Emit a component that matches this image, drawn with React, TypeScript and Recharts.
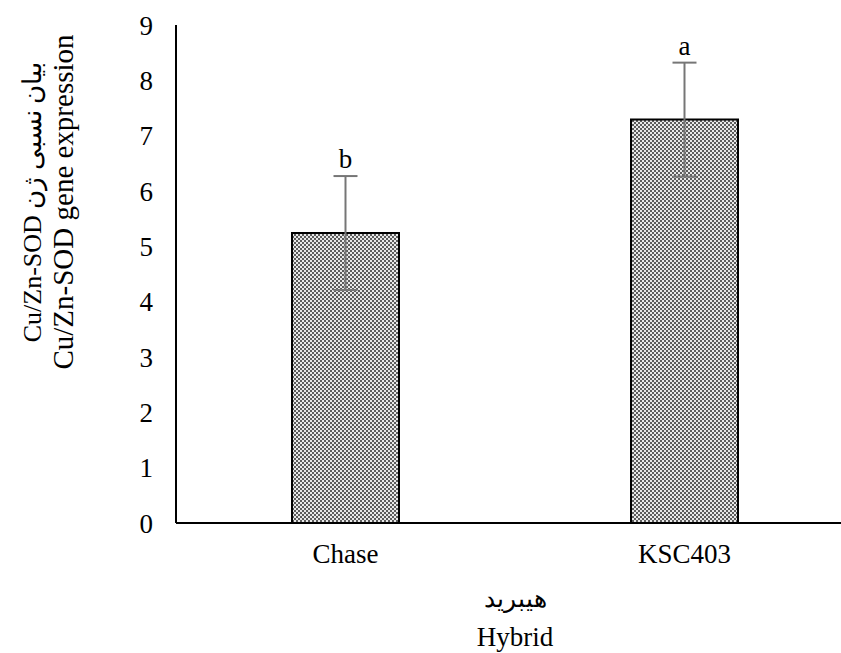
import { BarChart, Bar, XAxis, YAxis, ErrorBar, LabelList } from "recharts";

const hybrids = ["Chase", "KSC403"];
const expression = [5.24, 7.29];
const errors = [1.03, 1.03];
const letters = ["b", "a"];
const yTicks = [0, 1, 2, 3, 4, 5, 6, 7, 8, 9];

const data = hybrids.map((name, i) => ({
  name,
  value: expression[i],
  err: errors[i],
  letter: letters[i],
}));

const FONT = "'Liberation Serif', 'Times New Roman', serif";

const LetterLabel = (props: any) => {
  const { x, y, width, height, index } = props;
  const d = data[index];
  const perUnit = height / d.value;
  const top = y - d.err * perUnit;
  return (
    <text
      x={x + width / 2}
      y={top - 8}
      textAnchor="middle"
      fontFamily={FONT}
      fontSize={27}
      fill="#000"
    >
      {d.letter}
    </text>
  );
};

const YTitle = () => (
  <g fontFamily={FONT} fill="#000">
    <text
      x={41}
      y={202}
      transform="rotate(-90, 41, 202)"
      textAnchor="middle"
      fontSize={26}
    >
      Cu/Zn-SOD بیان نسبی ژن
    </text>
    <text
      x={73}
      y={202}
      transform="rotate(-90, 73, 202)"
      textAnchor="middle"
      fontSize={29}
    >
      Cu/Zn-SOD gene expression
    </text>
  </g>
);

const XTitle = (props: any) => {
  const vb = props.viewBox;
  const cx = vb.x + vb.width / 2;
  return (
    <g fontFamily={FONT} fill="#000">
      <text x={cx} y={607} textAnchor="middle" fontSize={25}>
        هیبرید
      </text>
      <text x={cx} y={646} textAnchor="middle" fontSize={27}>
        Hybrid
      </text>
    </g>
  );
};

export default function App() {
  return (
    <div
      style={{
        position: "absolute",
        left: 0,
        top: 0,
        width: 841,
        height: 653,
        overflow: "hidden",
        background: "#ffffff",
      }}
    >
      <BarChart
        width={860}
        height={653}
        data={data}
        margin={{ top: 25, right: 6, left: 0, bottom: 100 }}
      >
        <defs>
          <pattern
            id="checker"
            width="4"
            height="4"
            patternUnits="userSpaceOnUse"
          >
            <rect width="4" height="4" fill="#e8e8e8" />
            <rect width="2" height="2" fill="#5c5c5c" />
            <rect x="2" y="2" width="2" height="2" fill="#5c5c5c" />
          </pattern>
        </defs>
        <XAxis
          dataKey="name"
          height={30}
          axisLine={{ stroke: "#000", strokeWidth: 2 }}
          tickLine={false}
          tickMargin={15}
          tick={{ fill: "#000", fontSize: 27, fontFamily: FONT }}
          label={{ content: XTitle }}
        />
        <YAxis
          width={176}
          domain={[0, 9]}
          ticks={yTicks}
          interval={0}
          axisLine={{ stroke: "#000", strokeWidth: 2 }}
          tickLine={false}
          tickMargin={17}
          tick={{ fill: "#000", fontSize: 27, fontFamily: FONT }}
          label={{ content: YTitle }}
        />
        <Bar
          dataKey="value"
          fill="url(#checker)"
          stroke="#000"
          strokeWidth={2}
          barSize={107}
          isAnimationActive={false}
        >
          <ErrorBar
            dataKey="err"
            width={12}
            strokeWidth={2}
            stroke="#767676"
            direction="y"
          />
          <LabelList dataKey="letter" content={LetterLabel} />
        </Bar>
      </BarChart>
    </div>
  );
}
